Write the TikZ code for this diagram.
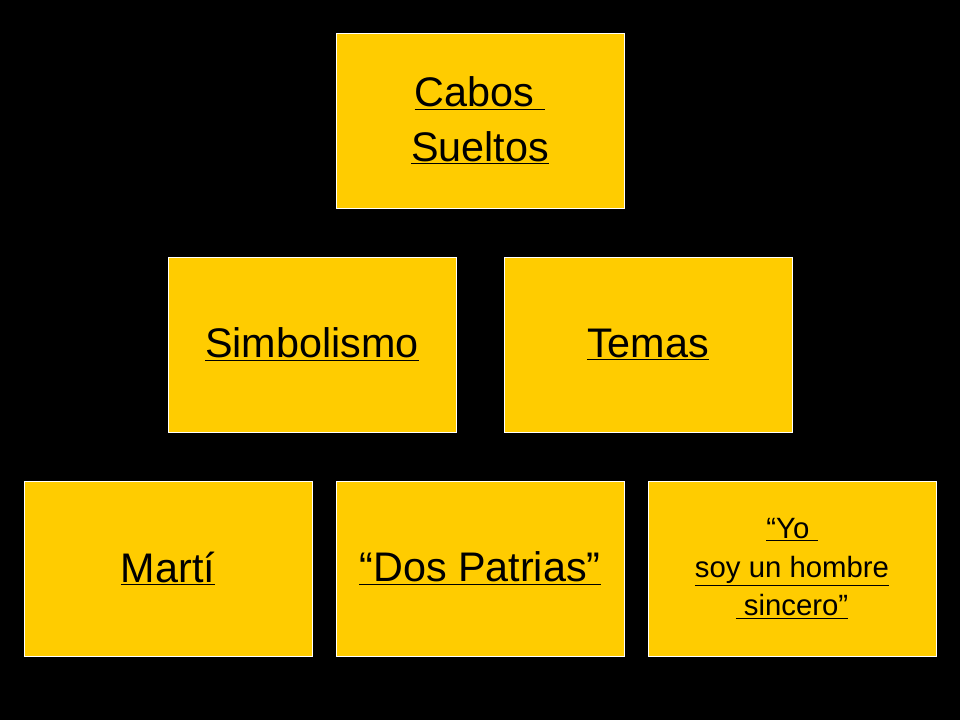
\documentclass[tikz,border=0pt]{standalone}
\usepackage{fontspec}
\setmainfont{Liberation Sans}
\begin{document}
\begin{tikzpicture}[x=0.75pt,y=-0.75pt,
 box/.style={fill={rgb,255:red,255;green,204;blue,0},draw=white,line width=0.4pt,minimum width=216pt,minimum height=131pt,inner sep=0pt,align=center,font=\fontsize{31}{41}\selectfont},
 small/.style={font=\fontsize{22}{29}\selectfont}]
\fill[black] (0,0) rectangle (960,720);
\useasboundingbox (0,0) rectangle (960,720);
\node[box] (top) at (480,120.5) {\underline{Cabos\ }\\\underline{Sueltos}};
\node[box] (sim) at (312,344.5) {\underline{Simbolismo}};
\node[box] (tem) at (648,344.5) {\underline{Temas}};
\node[box] (mar) at (168,568.5) {\underline{Martí}};
\node[box] (dos) at (480,568.5) {\underline{“Dos Patrias”}};
\node[box,small] (yo) at (792,568.5) {\underline{“Yo\ }\\\underline{soy un hombre}\\\underline{\ sincero”}};
\end{tikzpicture}
\end{document}
